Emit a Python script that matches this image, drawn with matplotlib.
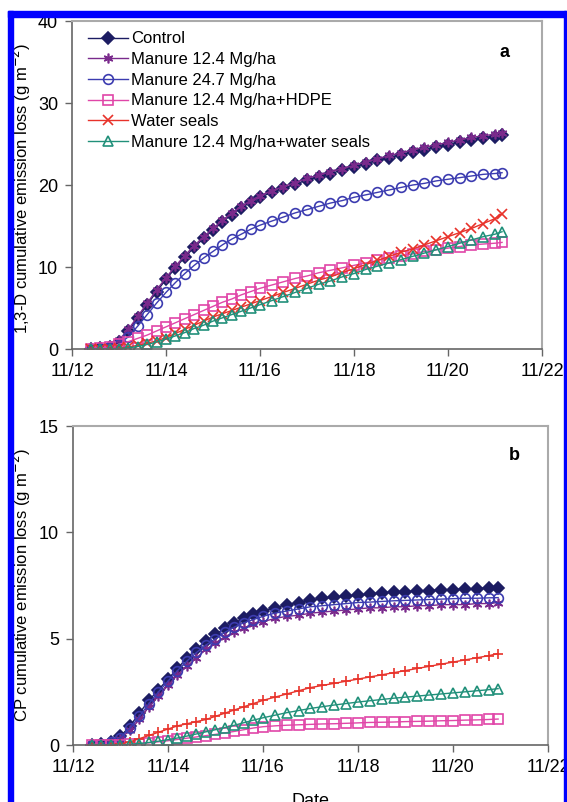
import matplotlib
matplotlib.use("Agg")
import matplotlib.pyplot as plt
from matplotlib.patches import Rectangle

plt.rcParams['font.family'] = ['Liberation Sans', 'DejaVu Sans']

# sampling times (day of November)
t_a = [12.4, 12.6, 12.8, 13.0, 13.2, 13.4, 13.6, 13.8, 14.0, 14.2, 14.4, 14.6, 14.8, 15.0,
       15.2, 15.4, 15.6, 15.8, 16.0, 16.25, 16.5, 16.75, 17.0, 17.25, 17.5, 17.75, 18.0,
       18.25, 18.5, 18.75, 19.0, 19.25, 19.5, 19.75, 20.0, 20.25, 20.5, 20.75, 21.0, 21.15]
t_b = [12.4, 12.6, 12.8, 13.0, 13.2, 13.4, 13.6, 13.8, 14.0, 14.2, 14.4, 14.6, 14.8, 15.0,
       15.2, 15.4, 15.6, 15.8, 16.0, 16.25, 16.5, 16.75, 17.0, 17.25, 17.5, 17.75, 18.0,
       18.25, 18.5, 18.75, 19.0, 19.25, 19.5, 19.75, 20.0, 20.25, 20.5, 20.75, 20.95]

labels = ['Control', 'Manure 12.4 Mg/ha', 'Manure 24.7 Mg/ha', 'Manure 12.4 Mg/ha+HDPE',
          'Water seals', 'Manure 12.4 Mg/ha+water seals']

# panel a: 1,3-D
control_a = [0, 0.1, 0.3, 0.9, 2.2, 3.8, 5.4, 7.0, 8.5, 9.9, 11.2, 12.4, 13.5, 14.5, 15.5, 16.4,
             17.2, 17.9, 18.5, 19.1, 19.6, 20.1, 20.6, 21.0, 21.4, 21.8, 22.2, 22.6, 23.0, 23.3,
             23.7, 24.0, 24.3, 24.6, 24.9, 25.2, 25.5, 25.7, 25.9, 26.1]
man12_a = [0, 0.1, 0.4, 1.1, 2.4, 4.0, 5.6, 7.2, 8.7, 10.1, 11.4, 12.6, 13.7, 14.7, 15.7, 16.6,
           17.4, 18.1, 18.7, 19.3, 19.8, 20.3, 20.8, 21.2, 21.6, 22.0, 22.4, 22.8, 23.2, 23.6,
           23.9, 24.3, 24.6, 24.9, 25.2, 25.5, 25.8, 26.0, 26.2, 26.4]
man24_a = [0, 0.05, 0.2, 0.6, 1.5, 2.8, 4.2, 5.6, 6.9, 8.1, 9.2, 10.2, 11.1, 11.9, 12.7, 13.4,
           14.0, 14.6, 15.1, 15.6, 16.1, 16.6, 17.0, 17.4, 17.8, 18.1, 18.5, 18.8, 19.1, 19.4,
           19.7, 20.0, 20.2, 20.5, 20.7, 20.9, 21.1, 21.3, 21.4, 21.5]
hdpe_a = [0, 0.1, 0.3, 0.6, 0.9, 1.3, 1.7, 2.2, 2.7, 3.2, 3.7, 4.2, 4.7, 5.2, 5.7, 6.1, 6.6,
          7.0, 7.4, 7.8, 8.2, 8.6, 8.9, 9.3, 9.6, 9.9, 10.2, 10.5, 10.8, 11.1, 11.4, 11.6,
          11.9, 12.1, 12.3, 12.5, 12.7, 12.8, 12.9, 13.0]
water_a = [0, 0, 0.05, 0.1, 0.25, 0.45, 0.7, 1.0, 1.4, 1.9, 2.4, 2.9, 3.4, 3.9, 4.3, 4.7, 5.1,
           5.5, 5.9, 6.4, 6.9, 7.4, 7.9, 8.4, 8.8, 9.3, 9.8, 10.3, 10.8, 11.3, 11.8, 12.2,
           12.7, 13.2, 13.7, 14.2, 14.7, 15.3, 15.9, 16.5]
manwater_a = [0, 0, 0, 0.05, 0.15, 0.3, 0.55, 0.85, 1.2, 1.6, 2.0, 2.5, 2.9, 3.4, 3.8, 4.2, 4.6,
              5.0, 5.4, 5.9, 6.4, 6.9, 7.4, 7.9, 8.3, 8.8, 9.2, 9.7, 10.1, 10.5, 10.9, 11.3,
              11.7, 12.1, 12.5, 12.9, 13.3, 13.7, 14.0, 14.3]

# panel b: CP
control_b = [0, 0.05, 0.15, 0.4, 0.9, 1.5, 2.1, 2.6, 3.1, 3.6, 4.1, 4.5, 4.9, 5.2, 5.5, 5.75,
             5.95, 6.15, 6.3, 6.45, 6.6, 6.7, 6.8, 6.9, 6.95, 7.0, 7.05, 7.1, 7.15, 7.2, 7.2,
             7.25, 7.25, 7.3, 7.3, 7.35, 7.35, 7.4, 7.4]
man12_b = [0, 0.05, 0.1, 0.3, 0.7, 1.2, 1.8, 2.3, 2.8, 3.3, 3.7, 4.1, 4.5, 4.8, 5.1, 5.3, 5.5,
           5.7, 5.8, 5.95, 6.05, 6.1, 6.2, 6.25, 6.3, 6.35, 6.4, 6.45, 6.45, 6.5, 6.5, 6.55,
           6.55, 6.6, 6.6, 6.6, 6.65, 6.65, 6.7]
man24_b = [0, 0.05, 0.12, 0.35, 0.8, 1.35, 1.95, 2.5, 3.0, 3.5, 3.95, 4.35, 4.7, 5.0, 5.3,
           5.55, 5.75, 5.9, 6.05, 6.2, 6.3, 6.4, 6.5, 6.55, 6.6, 6.65, 6.7, 6.72, 6.75, 6.78,
           6.8, 6.82, 6.84, 6.86, 6.88, 6.9, 6.9, 6.92, 6.93]
hdpe_b = [0, 0, 0, 0.01, 0.03, 0.06, 0.1, 0.15, 0.2, 0.26, 0.32, 0.38, 0.44, 0.5, 0.57, 0.64,
          0.72, 0.8, 0.86, 0.9, 0.93, 0.95, 0.97, 0.99, 1.0, 1.02, 1.04, 1.06, 1.07, 1.08, 1.1,
          1.11, 1.12, 1.14, 1.15, 1.17, 1.18, 1.2, 1.22]
water_b = [0, 0, 0.02, 0.05, 0.15, 0.3, 0.45, 0.6, 0.75, 0.9, 1.0, 1.1, 1.2, 1.35, 1.5, 1.65,
           1.8, 1.95, 2.1, 2.25, 2.4, 2.55, 2.7, 2.8, 2.9, 3.0, 3.1, 3.2, 3.3, 3.4, 3.5, 3.6,
           3.7, 3.8, 3.9, 4.0, 4.1, 4.2, 4.3]
manwater_b = [0, 0, 0, 0.01, 0.03, 0.07, 0.12, 0.18, 0.25, 0.33, 0.42, 0.52, 0.62, 0.72, 0.82,
              0.93, 1.05, 1.17, 1.28, 1.4, 1.52, 1.62, 1.72, 1.8, 1.88, 1.95, 2.02, 2.08, 2.14,
              2.2, 2.25, 2.3, 2.35, 2.4, 2.45, 2.5, 2.55, 2.6, 2.65]

xticks = [12, 14, 16, 18, 20, 22]
xticklabels = ['11/12', '11/14', '11/16', '11/18', '11/20', '11/22']

colors = ['#1c1c62', '#7a2a8c', '#3c3cb0', '#e046a8', '#e8322a', '#21907a']
asterisk = (6, 2, 0)


def style(ax, ymax, yticks):
    ax.set_xlim(12, 22)
    ax.set_ylim(0, ymax)
    ax.set_xticks(xticks)
    ax.set_xticklabels(xticklabels)
    ax.set_yticks(yticks)
    ax.tick_params(axis='both', labelsize=13, length=5, width=1, color='#666666', pad=5)
    for s in ['left', 'bottom']:
        ax.spines[s].set_color('#666666')
        ax.spines[s].set_linewidth(1.2)
    for s in ['top', 'right']:
        ax.spines[s].set_color('#aaaaaa')
        ax.spines[s].set_linewidth(1.5)


fig = plt.figure(figsize=(5.67, 8.02), dpi=100)

# panel a
ax1 = fig.add_axes([72 / 567, 1 - 349 / 802, 470 / 567, 328 / 802])
series_a = [control_a, man12_a, man24_a, hdpe_a, water_a, manwater_a]
markers_a = ['D', asterisk, 'o', 's', 'x', '^']
for vals, c, m, lab in zip(series_a, colors, markers_a, labels):
    filled = m in ('D', asterisk, 'x')
    ax1.plot(t_a, vals, color=c, lw=1, marker=m, ms=7 if m != 'D' else 6,
             mfc=c if filled else 'none', mec=c, mew=1.2, label=lab)
style(ax1, 40, [0, 10, 20, 30, 40])
ax1.set_ylabel('1,3-D cumulative emission loss (g m$^{-2}$)', fontsize=12)
ax1.yaxis.set_label_coords(-0.084, 0.49)
ax1.text(0.921, 0.905, 'a', transform=ax1.transAxes, fontsize=13, fontweight='bold',
         ha='center', va='center')
ax1.legend(loc='upper left', bbox_to_anchor=(0.034, 0.968), frameon=False, fontsize=12,
           borderpad=0, borderaxespad=0, labelspacing=0.34, handlelength=2.4,
           handletextpad=0.2)

# panel b
ax2 = fig.add_axes([73 / 567, 1 - 745 / 802, 475 / 567, 319 / 802])
series_b = [control_b, man12_b, man24_b, hdpe_b, water_b, manwater_b]
markers_b = ['D', asterisk, 'o', 's', '+', '^']
for vals, c, m in zip(series_b, colors, markers_b):
    filled = m in ('D', asterisk, '+')
    ax2.plot(t_b, vals, color=c, lw=1, marker=m, ms=7 if m != 'D' else 6,
             mfc=c if filled else 'none', mec=c, mew=1.2)
style(ax2, 15, [0, 5, 10, 15])
ax2.set_ylabel('CP cumulative emission loss (g m$^{-2}$)', fontsize=12)
ax2.yaxis.set_label_coords(-0.085, 0.5)
ax2.set_xlabel('Date', fontsize=13, labelpad=12)
ax2.text(0.93, 0.906, 'b', transform=ax2.transAxes, fontsize=13, fontweight='bold',
         ha='center', va='center')

# blue frame around the figure
W, H = 567, 802
fig.patches.append(Rectangle((8 / W, 0), 5 / W, 1 - 11 / H, transform=fig.transFigure,
                             color='#0000ff', zorder=10))
fig.patches.append(Rectangle((8 / W, 1 - 17 / H), 558 / W, 6 / H, transform=fig.transFigure,
                             color='#0000ff', zorder=10))
fig.patches.append(Rectangle((564 / W, 0), 3 / W, 1 - 11 / H, transform=fig.transFigure,
                             color='#0000ff', zorder=10))

fig.savefig('out.png', dpi=100)
